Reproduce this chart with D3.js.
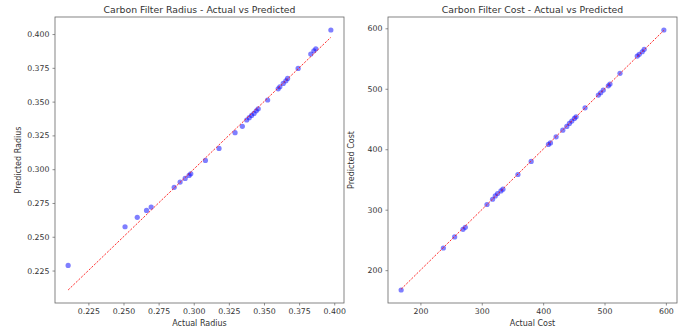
<!DOCTYPE html>
<html>
<head>
<meta charset="utf-8">
<script src="https://cdn.jsdelivr.net/npm/d3@7"></script>
<style>
  body { margin: 0; background: #fff; }
  svg text { font-family: "DejaVu Sans", sans-serif; fill: #333; }
</style>
</head>
<body>
<div id="display"></div>
<script>
// values
const radiusActual = [0.2106, 0.2511, 0.2598, 0.2664, 0.2697, 0.2861, 0.2903, 0.2939, 0.2967, 0.2979,
  0.3083, 0.3180, 0.3294, 0.3346, 0.3377, 0.3395, 0.3412, 0.3429, 0.3445, 0.3459,
  0.3526, 0.3601, 0.3613, 0.3637, 0.3656, 0.3668, 0.3743, 0.3833, 0.3855, 0.3869, 0.3976]
const radiusPredicted = [0.2288, 0.2574, 0.2644, 0.2695, 0.2720, 0.2866, 0.2905, 0.2932, 0.2954, 0.2966,
  0.3065, 0.3154, 0.3270, 0.3317, 0.3364, 0.3381, 0.3398, 0.3413, 0.3432, 0.3447,
  0.3512, 0.3595, 0.3610, 0.3635, 0.3654, 0.3672, 0.3746, 0.3852, 0.3876, 0.3891, 0.4030]

const costActual = [168.6, 237.4, 255.8, 269.4, 273.2, 308.5, 317.6, 322.0, 325.7, 331.2, 334.5,
  358.9, 380.5, 408.6, 411.9, 421.1, 432.0, 438.5, 442.8, 446.7, 450.9, 453.7, 468.3,
  490.0, 493.8, 498.0, 506.2, 508.9, 525.2, 553.3, 556.6, 561.5, 564.7, 596.7]
const costPredicted = [167.2, 236.7, 254.9, 267.6, 270.9, 308.6, 317.3, 322.8, 326.8, 331.1, 333.9,
  358.2, 379.8, 407.9, 410.5, 420.6, 431.6, 437.7, 442.7, 446.5, 451.0, 453.6, 468.5,
  489.5, 493.4, 497.8, 504.9, 507.8, 525.5, 554.1, 556.9, 561.2, 565.2, 597.2]

const radiusTicks = [0.225, 0.250, 0.275, 0.300, 0.325, 0.350, 0.375, 0.400]
const costTicks = [200, 300, 400, 500, 600]

const W = 683, H = 333
const svg = d3.select('#display').append('svg')
  .attr('width', W)
  .attr('height', H)

// matplotlib-style 5% padding
function padded(vals) {
  const ext = d3.extent(vals)
  const p = (ext[1] - ext[0]) * 0.05
  return [ext[0] - p, ext[1] + p]
}

function panel(box, actual, predicted, ticks, fmt, title, xLabel, yLabel) {
  const lo = d3.min(actual), hi = d3.max(actual)
  const xScale = d3.scaleLinear()
    .domain(padded(actual.concat([lo, hi])))
    .range([box.left, box.right])
  const yScale = d3.scaleLinear()
    .domain(padded(predicted.concat([lo, hi])))
    .range([box.bottom, box.top])

  svg.append('g')
    .attr('transform', 'translate(0,' + box.bottom + ')')
    .call(d3.axisBottom(xScale).tickValues(ticks).tickFormat(fmt).tickSize(2.5).tickPadding(3))
    .call(g => g.select('.domain').remove())
    .call(g => g.selectAll('line').attr('stroke', '#444').attr('stroke-width', 0.6))
    .call(g => g.selectAll('text').style('font-size', '7.8px'))

  svg.append('g')
    .attr('transform', 'translate(' + box.left + ',0)')
    .call(d3.axisLeft(yScale).tickValues(ticks).tickFormat(fmt).tickSize(2.5).tickPadding(3))
    .call(g => g.select('.domain').remove())
    .call(g => g.selectAll('line').attr('stroke', '#444').attr('stroke-width', 0.6))
    .call(g => g.selectAll('text').style('font-size', '7.8px'))

  const pts = actual.map((a, i) => ({a: a, p: predicted[i]}))
  svg.append('g').selectAll('circle').data(pts)
    .enter()
    .append('circle')
      .attr('cx', d => xScale(d.a))
      .attr('cy', d => yScale(d.p))
      .attr('r', 2.6)
      .attr('fill', 'blue')
      .attr('fill-opacity', 0.5)

  svg.append('line')
    .attr('x1', xScale(lo)).attr('y1', yScale(lo))
    .attr('x2', xScale(hi)).attr('y2', yScale(hi))
    .attr('stroke', '#ff1a1a')
    .attr('stroke-width', 1)
    .attr('stroke-opacity', 0.9)
    .attr('stroke-dasharray', '2.2,1.4')

  svg.append('rect')
    .attr('x', box.left).attr('y', box.top)
    .attr('width', box.right - box.left)
    .attr('height', box.bottom - box.top)
    .attr('fill', 'none')
    .attr('stroke', '#666')
    .attr('stroke-width', 0.8)

  const cx = (box.left + box.right) / 2
  svg.append('text')
    .attr('x', cx).attr('y', 12.5)
    .attr('text-anchor', 'middle')
    .style('font-size', '9.3px')
    .text(title)

  svg.append('text')
    .attr('x', cx).attr('y', 325.5)
    .attr('text-anchor', 'middle')
    .style('font-size', '8px')
    .text(xLabel)

  svg.append('text')
    .attr('transform', 'translate(' + (box.left - 34.5) + ',' + ((box.top + box.bottom) / 2) + ') rotate(-90)')
    .attr('text-anchor', 'middle')
    .style('font-size', '8px')
    .text(yLabel)
}

panel({left: 55, right: 344, top: 17, bottom: 303}, radiusActual, radiusPredicted,
  radiusTicks, d3.format('.3f'), 'Carbon Filter Radius - Actual vs Predicted', 'Actual Radius', 'Predicted Radius')

panel({left: 388, right: 677, top: 17, bottom: 303}, costActual, costPredicted,
  costTicks, d3.format('d'), 'Carbon Filter Cost - Actual vs Predicted', 'Actual Cost', 'Predicted Cost')
</script>
</body>
</html>
